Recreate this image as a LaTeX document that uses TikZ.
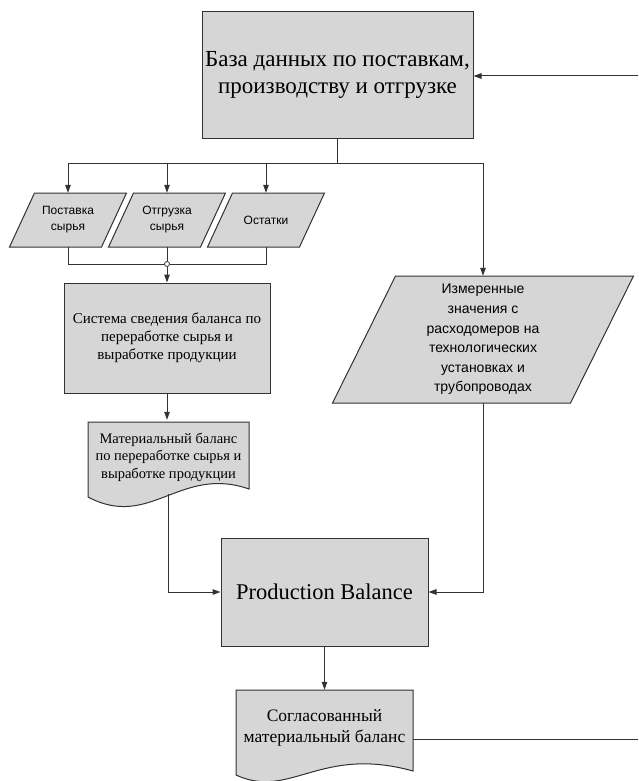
\documentclass[tikz,border=0pt]{standalone}
\usepackage{fontspec}
\setmainfont{Liberation Serif}
\newfontfamily\arialf{Liberation Sans}
\usetikzlibrary{arrows.meta}
\definecolor{linec}{RGB}{50,50,50}
\definecolor{boxfill}{RGB}{214,214,214}
\begin{document}
\begin{tikzpicture}[x={(1pt,0pt)}, y={(0pt,-1pt)},
  box/.style={draw=linec, fill=boxfill, line width=1pt, inner sep=0pt, align=center},
  shapefill/.style={draw=linec, fill=boxfill, line width=1pt},
  txt/.style={inner sep=0pt, align=center},
  conn/.style={draw=linec, line width=1pt},
  arr/.style={conn, -{Triangle[length=8pt,width=5.5pt]}},
  junction/.style={circle, draw=linec, fill=white, line width=0.8pt, inner sep=0pt, minimum size=5pt}
]
\useasboundingbox (0,0) rectangle (638,781);
\clip (0,0) rectangle (638,781);

% top database box
\node[box, minimum width=271pt, minimum height=126pt, font=\fontsize{23}{27}\selectfont] (db) at (337.5,75)
  {База данных по поставкам,\\производству и отгрузке};

% three small parallelograms
\draw[shapefill] (9.5,247) -- (101.5,247) -- (126.5,193) -- (34.5,193) -- cycle;
\draw[shapefill] (108.5,247) -- (200.5,247) -- (225.5,193) -- (133.5,193) -- cycle;
\draw[shapefill] (207.5,247) -- (299.5,247) -- (324.5,193) -- (232.5,193) -- cycle;
\node[txt, minimum width=92pt, minimum height=54pt, font=\arialf\fontsize{12}{16}\selectfont] (p1) at (68,220) {Поставка\\сырья};
\node[txt, minimum width=92pt, minimum height=54pt, font=\arialf\fontsize{12}{16}\selectfont] (p2) at (167,220) {Отгрузка\\сырья};
\node[txt, minimum width=92pt, minimum height=54pt, font=\arialf\fontsize{12}{16}\selectfont] (p3) at (266,220) {Остатки};

% measured values parallelogram
\draw[shapefill] (332.5,403) -- (570.5,403) -- (633.5,276) -- (395.5,276) -- cycle;
\node[txt, minimum width=238pt, minimum height=127pt, font=\arialf\fontsize{14}{19.6}\selectfont] (meas) at (483,339.5)
  {Измеренные\\значения с\\расходомеров на\\технологических\\установках и\\трубопроводах};

% balance system box
\node[box, minimum width=206pt, minimum height=110pt, font=\fontsize{15}{18}\selectfont] (sys) at (167,338)
  {Система сведения баланса по\\переработке сырья и\\выработке продукции};

% material balance document
\draw[shapefill] (88,422) -- (249,422) -- (249,489) .. controls (180,465) and (150,530) .. (88,497) -- cycle;
\node[txt, minimum width=161pt, minimum height=74pt, font=\fontsize{14.5}{17.5}\selectfont] (doc1) at (168.5,457)
  {Материальный баланс\\по переработке сырья и\\выработке продукции};

% production balance
\node[box, minimum width=207pt, minimum height=108pt, font=\fontsize{22.5}{26}\selectfont] (pb) at (324.5,592)
  {Production Balance};

% reconciled balance document
\draw[shapefill] (236,690) -- (413,690) -- (413,771) .. controls (320,745) and (290,800) .. (236,775) -- cycle;
\node[txt, minimum width=177pt, minimum height=76pt, font=\fontsize{17.5}{21}\selectfont] (doc2) at (324.5,728)
  {Согласованный\\материальный баланс};

% connectors
\coordinate (bus) at (337.5,163);
\node[junction] (j) at (167,264) {};
\coordinate (loopin) at (638,76);
\coordinate (loopout) at (638,739);

\draw[conn] (db.south) -- (bus);
\draw[conn] (p1.north |- bus) -- (meas.north |- bus);
\draw[arr] (p1.north |- bus) -- (p1.north);
\draw[arr] (p2.north |- bus) -- (p2.north);
\draw[arr] (p3.north |- bus) -- (p3.north);
\draw[arr] (meas.north |- bus) -- (meas.north);

\draw[conn] (p1.south) -- (p1.south |- j) -- (j);
\draw[conn] (p3.south) -- (p3.south |- j) -- (j);
\draw[conn] (p2.south) -- (j);
\draw[arr] (j) -- (sys.north);

\draw[arr] (sys.south) -- (sys.south |- doc1.north);
\draw[arr] (doc1.south) |- (pb.west);
\draw[arr] (meas.south) |- (pb.east);
\draw[arr] (pb.south) -- (doc2.north);
\draw[conn] (doc2.east |- loopout) -- (loopout);
\draw[arr] (loopin) -- (db.east |- loopin);
\end{tikzpicture}
\end{document}
